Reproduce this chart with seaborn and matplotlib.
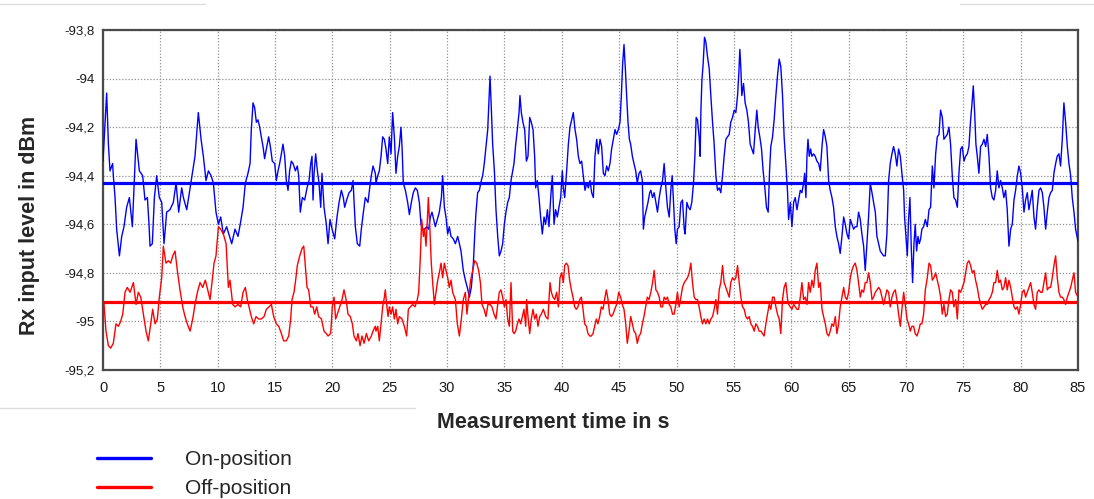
import pandas as pd
import seaborn as sns
import matplotlib.pyplot as plt
from matplotlib.lines import Line2D
from matplotlib.ticker import FuncFormatter

# Rx input level (dBm) over measurement time (s), on- and off-position
time_on = [
    0.00, 0.32, 0.47, 0.61, 0.84, 0.90, 1.05, 1.19, 1.43, 1.63, 1.83, 2.06, 2.30, 2.56, 2.88, 3.17, 3.46, 3.66, 3.87, 4.01,
    4.10, 4.30, 4.48, 4.68, 4.91, 5.12, 5.32, 5.55, 5.84, 6.13, 6.37, 6.60, 6.86, 7.01, 7.30, 7.53, 7.76, 8.02, 8.31, 8.55,
    8.75, 8.98, 9.19, 9.42, 9.62, 9.85, 10.06, 10.26, 10.49, 10.78, 11.22, 11.51,
    11.77, 12.00, 12.21, 12.41, 12.64, 12.82, 12.93, 13.08, 13.22, 13.37, 13.51, 13.66, 13.80, 13.95, 14.09, 14.24, 14.44, 14.59, 14.76, 14.97,
    15.11, 15.26, 15.40, 15.55, 15.69, 15.84, 15.98, 16.13, 16.27, 16.42, 16.57, 16.77, 16.94, 17.06, 17.20, 17.38, 17.58, 17.79, 17.96, 18.11,
    18.22, 18.31, 18.40, 18.54, 18.69, 18.83, 18.98, 19.09, 19.27, 19.47, 19.62, 19.79, 19.97, 20.20, 20.40, 20.58, 20.78, 20.95, 21.07, 21.24,
    21.45, 21.65, 21.80, 21.88, 22.00, 22.17, 22.38, 22.52, 22.70, 22.87, 23.10, 23.25, 23.39, 23.54, 23.74,
    23.80, 23.95, 24.09, 24.24, 24.38, 24.53, 24.67, 24.82, 24.96, 25.11, 25.25, 25.40, 25.54, 25.69, 25.83, 25.98, 26.07, 26.18, 26.36, 26.56,
    26.71, 26.88, 27.05, 27.23, 27.40, 27.58, 27.72, 27.87, 28.04, 28.22, 28.39, 28.54, 28.68, 28.83, 28.97, 29.15, 29.32, 29.50, 29.61, 29.76,
    29.90, 30.05, 30.19, 30.34, 30.54, 30.72, 30.92, 31.07, 31.21, 31.41, 31.59, 31.76, 31.94, 32.11, 32.29, 32.43, 32.52, 32.66, 32.81, 32.98,
    33.10, 33.24, 33.39, 33.54, 33.62, 33.74, 33.86, 33.97, 34.12, 34.26, 34.41, 34.55, 34.70, 34.84, 34.99, 35.13, 35.28, 35.42, 35.57, 35.72,
    35.83, 35.98, 36.12, 36.27, 36.35, 36.47, 36.61, 36.76, 36.91, 37.05, 37.20, 37.34, 37.49, 37.63, 37.72, 37.86, 38.01, 38.15, 38.30, 38.45,
    38.59, 38.74, 38.88, 39.03, 39.17, 39.32, 39.46, 39.61, 39.75, 39.90, 40.04, 40.13, 40.25, 40.42, 40.57, 40.71, 40.86, 41.00, 41.15, 41.29,
    41.44, 41.58, 41.73, 41.87, 42.02, 42.17, 42.31, 42.46, 42.60, 42.75, 42.89, 43.04, 43.18, 43.33, 43.47, 43.62, 43.76, 43.91, 44.05, 44.20,
    44.34, 44.49, 44.64, 44.78, 44.93, 45.07, 45.19, 45.30, 45.42, 45.54, 45.65, 45.77, 45.89, 46.00, 46.15, 46.29, 46.44, 46.58, 46.73, 46.87,
    47.02, 47.11, 47.22, 47.37, 47.51, 47.66,
    47.76, 47.91, 48.05, 48.20, 48.34, 48.49, 48.63, 48.78, 48.92, 49.07, 49.21, 49.36, 49.50, 49.62, 49.74, 49.85, 49.97, 50.08, 50.23, 50.38,
    50.52, 50.67, 50.75, 50.90, 51.04, 51.19, 51.33, 51.48, 51.60, 51.71, 51.83, 51.97, 52.06, 52.12, 52.21, 52.32, 52.44, 52.56, 52.70, 52.85,
    52.99, 53.14, 53.28, 53.43, 53.57, 53.72, 53.86, 54.01, 54.15, 54.30, 54.44, 54.59, 54.73, 54.88, 55.03, 55.17, 55.32, 55.43, 55.52, 55.61,
    55.69, 55.84, 55.98, 56.13, 56.27, 56.42, 56.57, 56.71, 56.86, 57.00, 57.12, 57.26, 57.41, 57.55, 57.70, 57.84, 57.99, 58.11, 58.22, 58.37,
    58.51, 58.66, 58.80, 58.95, 59.09, 59.24, 59.38, 59.53, 59.68,
    59.77, 59.92, 60.06, 60.21, 60.35, 60.50, 60.64, 60.79, 60.93, 61.08, 61.17, 61.28, 61.37, 61.46, 61.57, 61.69, 61.80, 61.95, 62.09, 62.24,
    62.39, 62.53, 62.68, 62.82, 62.97, 63.11, 63.26, 63.40, 63.55, 63.69, 63.84, 63.98, 64.13, 64.27, 64.42, 64.57, 64.71, 64.86, 65.00, 65.15,
    65.29, 65.44, 65.58, 65.73, 65.87, 66.02, 66.16, 66.31, 66.45, 66.60, 66.74, 66.89, 67.04, 67.18, 67.33, 67.47, 67.62, 67.76, 67.91, 68.05,
    68.20, 68.34, 68.49, 68.63, 68.78, 68.92, 69.07, 69.21, 69.36, 69.51, 69.65, 69.80, 69.88, 70.00, 70.12, 70.23, 70.35, 70.46, 70.58, 70.70,
    70.81, 70.93, 71.05, 71.16, 71.28, 71.39, 71.54, 71.69,
    71.86, 72.01, 72.15, 72.30, 72.44, 72.59, 72.73, 72.88, 73.02, 73.17, 73.31, 73.46, 73.60, 73.75, 73.89, 74.04, 74.18, 74.33, 74.48, 74.62,
    74.77, 74.91, 75.06, 75.20, 75.35, 75.49, 75.64, 75.78, 75.87, 75.99, 76.10, 76.22, 76.36, 76.51, 76.66, 76.80, 76.95, 77.09, 77.24, 77.38,
    77.53, 77.67, 77.82, 77.96, 78.11, 78.25, 78.40, 78.54, 78.69, 78.83, 78.98, 79.13, 79.27, 79.42, 79.56, 79.71, 79.85, 80.00, 80.14, 80.29,
    80.43, 80.58, 80.72, 80.87, 81.01, 81.16, 81.30, 81.45, 81.60, 81.74, 81.89, 82.03, 82.18, 82.32, 82.47, 82.61, 82.76, 82.90, 83.05, 83.19,
    83.34, 83.48, 83.63, 83.77, 83.92, 84.07, 84.21, 84.36, 84.50, 84.65, 84.79, 85.00,
]
level_on = [
    -94.34, -94.06, -94.27, -94.38, -94.35, -94.40, -94.49, -94.62, -94.73, -94.65, -94.61, -94.53, -94.49, -94.61, -94.25, -94.38, -94.40, -94.50, -94.49, -94.60,
    -94.69, -94.68, -94.49, -94.40, -94.49, -94.51, -94.68, -94.55, -94.54, -94.51, -94.43, -94.55, -94.45, -94.49, -94.54, -94.47, -94.40, -94.32, -94.14, -94.25,
    -94.32, -94.42, -94.38, -94.40, -94.43, -94.55, -94.60, -94.57, -94.64, -94.61, -94.68, -94.62,
    -94.65, -94.59, -94.53, -94.43, -94.39, -94.35, -94.21, -94.10, -94.12, -94.18, -94.17, -94.20, -94.24, -94.28, -94.33, -94.29, -94.24, -94.28, -94.34, -94.35,
    -94.42, -94.38, -94.35, -94.31, -94.27, -94.32, -94.42, -94.46, -94.38, -94.34, -94.35, -94.38, -94.36, -94.40, -94.55, -94.49, -94.50, -94.45, -94.42, -94.35,
    -94.32, -94.50, -94.39, -94.31, -94.38, -94.43, -94.53, -94.39, -94.53, -94.60, -94.68, -94.58, -94.62, -94.66, -94.57, -94.51, -94.46, -94.49, -94.53, -94.50,
    -94.47, -94.46, -94.42, -94.50, -94.61, -94.68, -94.69, -94.62, -94.55, -94.49, -94.51, -94.45, -94.40, -94.36, -94.39,
    -94.43, -94.40, -94.38, -94.32, -94.24, -94.25, -94.29, -94.35, -94.24, -94.31, -94.14, -94.24, -94.39, -94.32, -94.28, -94.20, -94.28, -94.43, -94.46, -94.51,
    -94.56, -94.51, -94.47, -94.45, -94.46, -94.51, -94.60, -94.62, -94.62, -94.61, -94.62, -94.57, -94.55, -94.58, -94.61, -94.58, -94.55, -94.49, -94.40, -94.53,
    -94.57, -94.64, -94.61, -94.65, -94.66, -94.68, -94.65, -94.68, -94.71, -94.79, -94.83, -94.86, -94.90, -94.86, -94.76, -94.62, -94.55, -94.47, -94.46, -94.42,
    -94.40, -94.35, -94.28, -94.21, -94.12, -93.99, -94.13, -94.27, -94.38, -94.54, -94.65, -94.73, -94.71, -94.68, -94.60, -94.55, -94.51, -94.49, -94.42, -94.38,
    -94.35, -94.27, -94.21, -94.14, -94.07, -94.14, -94.18, -94.21, -94.34, -94.32, -94.16, -94.18, -94.21, -94.32, -94.45, -94.42, -94.49, -94.57, -94.64, -94.57,
    -94.60, -94.54, -94.61, -94.49, -94.40, -94.60, -94.54, -94.57, -94.53, -94.49, -94.38, -94.45, -94.49, -94.38, -94.27, -94.20, -94.17, -94.14, -94.21, -94.25,
    -94.32, -94.35, -94.34, -94.40, -94.46, -94.43, -94.45, -94.42, -94.47, -94.49, -94.32, -94.25, -94.31, -94.25, -94.28, -94.39, -94.40, -94.36, -94.38, -94.35,
    -94.29, -94.25, -94.21, -94.23, -94.21, -94.18, -94.07, -93.94, -93.86, -93.96, -94.07, -94.18, -94.25, -94.27, -94.32, -94.35, -94.38, -94.43, -94.39, -94.38,
    -94.42, -94.62, -94.57, -94.54, -94.51, -94.47,
    -94.46, -94.49, -94.47, -94.51, -94.55, -94.49, -94.45, -94.42, -94.35, -94.45, -94.53, -94.57, -94.46, -94.40, -94.51, -94.62, -94.68, -94.62, -94.61, -94.51,
    -94.50, -94.62, -94.64, -94.51, -94.53, -94.54, -94.51, -94.43, -94.32, -94.16, -94.17, -94.24, -94.32, -94.14, -94.01, -93.94, -93.83, -93.85, -93.91, -93.96,
    -94.07, -94.18, -94.27, -94.40, -94.46, -94.45, -94.47, -94.40, -94.32, -94.25, -94.24, -94.23, -94.18, -94.16, -94.13, -94.14, -94.07, -93.98, -93.88, -93.96,
    -94.07, -94.02, -94.10, -94.13, -94.18, -94.27, -94.29, -94.31, -94.21, -94.13, -94.20, -94.24, -94.29, -94.38, -94.45, -94.53, -94.55, -94.38, -94.28, -94.24,
    -94.17, -94.07, -93.99, -93.92, -93.95, -94.07, -94.24, -94.35, -94.47,
    -94.58, -94.51, -94.61, -94.51, -94.49, -94.54, -94.50, -94.46, -94.47, -94.43, -94.39, -94.49, -94.32, -94.25, -94.32, -94.29, -94.32, -94.31, -94.32, -94.34,
    -94.35, -94.38, -94.28, -94.21, -94.24, -94.28, -94.42, -94.46, -94.49, -94.53, -94.61, -94.65, -94.68, -94.72, -94.65, -94.57, -94.60, -94.64, -94.66, -94.58,
    -94.60, -94.62, -94.61, -94.61, -94.55, -94.58, -94.64, -94.69, -94.79, -94.68, -94.57, -94.43, -94.47, -94.51, -94.55, -94.65, -94.68, -94.71, -94.72, -94.73,
    -94.73, -94.64, -94.42, -94.35, -94.31, -94.28, -94.31, -94.36, -94.29, -94.32, -94.39, -94.46, -94.57, -94.65, -94.73, -94.58, -94.49, -94.69, -94.84, -94.68,
    -94.60, -94.71, -94.65, -94.68, -94.66, -94.62, -94.61, -94.58,
    -94.61, -94.54, -94.53, -94.36, -94.45, -94.31, -94.24, -94.23, -94.13, -94.16, -94.25, -94.24, -94.23, -94.20, -94.27, -94.40, -94.49, -94.50, -94.53, -94.39,
    -94.29, -94.28, -94.34, -94.32, -94.31, -94.28, -94.17, -94.09, -94.03, -94.14, -94.27, -94.32, -94.39, -94.28, -94.27, -94.25, -94.28, -94.23, -94.32, -94.45,
    -94.49, -94.50, -94.46, -94.38, -94.45, -94.42, -94.45, -94.49, -94.46, -94.54, -94.69, -94.62, -94.60, -94.50, -94.46, -94.40, -94.36, -94.39, -94.45, -94.55,
    -94.50, -94.47, -94.54, -94.50, -94.46, -94.57, -94.62, -94.53, -94.46, -94.45, -94.47, -94.53, -94.62, -94.55, -94.49, -94.47, -94.46, -94.39, -94.35, -94.32,
    -94.31, -94.36, -94.25, -94.10, -94.18, -94.28, -94.35, -94.40, -94.49, -94.55, -94.62, -94.67,
]
time_off = [
    0.00, 0.09, 0.26, 0.47, 0.67, 0.90, 1.13, 1.34, 1.54, 1.72, 1.92, 2.12, 2.36, 2.65, 2.88, 3.08, 3.29, 3.52, 3.75, 3.95,
    4.16, 4.33, 4.54, 4.74, 4.91, 5.12, 5.26, 5.49, 5.70, 5.90, 6.08, 6.28, 6.48, 6.71, 6.95, 7.15, 7.35, 7.59, 7.82, 8.02,
    8.23, 8.46, 8.69, 8.92, 9.13, 9.33, 9.50, 9.68, 9.85, 10.06, 10.26, 10.49, 10.73, 10.93, 11.07, 11.31, 11.51,
    11.77, 12.00, 12.21, 12.41, 12.58, 12.73, 12.93, 13.14, 13.34, 13.57, 13.80, 14.04, 14.24, 14.47, 14.68, 14.88, 15.11, 15.32, 15.55, 15.75,
    15.98, 16.19, 16.36, 16.48, 16.65, 16.77, 16.94, 17.15, 17.35, 17.50, 17.64, 17.79, 17.93, 18.11, 18.31, 18.45, 18.63, 18.80, 19.04, 19.27,
    19.47, 19.62, 19.85, 19.99, 20.14, 20.28, 20.43, 20.63, 20.84, 21.01, 21.19, 21.36, 21.56, 21.74, 21.88, 22.09, 22.23, 22.41, 22.58, 22.76,
    22.96, 23.16, 23.39, 23.54, 23.74,
    23.80, 23.95, 24.09, 24.24, 24.38, 24.53, 24.61, 24.73, 24.85, 24.96, 25.11, 25.25, 25.40, 25.54, 25.69, 25.83, 26.07, 26.27, 26.47, 26.62,
    26.79, 27.00, 27.20, 27.40, 27.52, 27.67, 27.78, 27.93, 28.04, 28.16, 28.28, 28.36, 28.48, 28.62, 28.74, 28.89, 29.03, 29.18, 29.32, 29.47,
    29.61, 29.76, 29.90, 30.05, 30.19, 30.34, 30.48, 30.72, 30.89, 31.07, 31.24, 31.41, 31.59, 31.73, 31.88, 32.05, 32.23, 32.40, 32.58, 32.75,
    32.90, 33.04, 33.22, 33.39, 33.56, 33.74, 33.91, 34.09, 34.26, 34.41, 34.55, 34.70, 34.84, 34.99, 35.13, 35.28, 35.42, 35.57, 35.72,
    35.83, 35.98, 36.12, 36.27, 36.41, 36.56, 36.70, 36.85, 36.93, 37.05, 37.20, 37.34, 37.49, 37.63, 37.78, 37.92, 38.07, 38.21, 38.39, 38.59,
    38.79, 38.88, 38.97, 39.09, 39.23, 39.38, 39.55, 39.70, 39.84, 39.99, 40.13, 40.25, 40.39, 40.54, 40.68, 40.83, 40.97, 41.12, 41.26, 41.41,
    41.56, 41.70, 41.85, 41.99, 42.14, 42.28, 42.43, 42.57, 42.72, 42.86, 43.01, 43.15, 43.30, 43.44, 43.59, 43.73, 43.88, 44.03, 44.17, 44.32,
    44.46, 44.61, 44.78, 44.96, 45.13, 45.27, 45.42, 45.57, 45.71, 45.86, 46.00, 46.15, 46.29, 46.44, 46.58, 46.73, 46.87, 47.02, 47.16, 47.31,
    47.45, 47.60,
    47.76, 47.91, 48.05, 48.20, 48.34, 48.49, 48.63, 48.78, 48.92, 49.07, 49.21, 49.36, 49.50, 49.65, 49.79, 49.94, 50.08, 50.23, 50.38, 50.52,
    50.67, 50.81, 50.96, 51.10, 51.25, 51.39, 51.54, 51.68, 51.83, 51.97, 52.12, 52.26, 52.41, 52.56, 52.70, 52.85, 52.99, 53.14, 53.28, 53.43,
    53.57, 53.72, 53.86, 54.01, 54.15, 54.30, 54.44, 54.59, 54.73, 54.88, 55.03, 55.17, 55.32, 55.46, 55.61, 55.75, 55.90, 56.04, 56.19, 56.33,
    56.48, 56.62, 56.77, 56.91, 57.06, 57.20, 57.35, 57.50, 57.64, 57.79, 57.93, 58.08, 58.22, 58.37, 58.51, 58.66, 58.80, 58.95, 59.09, 59.24,
    59.38, 59.53, 59.68,
    59.77, 59.92, 60.06, 60.21, 60.35, 60.50, 60.64, 60.79, 60.93, 61.08, 61.22, 61.37, 61.51, 61.66, 61.80, 61.95, 62.09, 62.24, 62.39, 62.53,
    62.68, 62.82, 62.97, 63.11, 63.26, 63.40, 63.55, 63.69, 63.84, 63.98, 64.13, 64.27, 64.42, 64.57, 64.71, 64.86, 65.00, 65.15, 65.29, 65.44,
    65.58, 65.73, 65.87, 66.02, 66.16, 66.31, 66.45, 66.60, 66.74, 66.89, 67.04, 67.18, 67.33, 67.47, 67.62, 67.76, 67.91, 68.05, 68.20, 68.34,
    68.49, 68.63, 68.78, 68.92, 69.07, 69.21, 69.36, 69.51, 69.65, 69.80, 69.94, 70.09, 70.23, 70.38, 70.52, 70.67, 70.81, 70.96, 71.10, 71.25,
    71.39, 71.54, 71.69,
    71.86, 72.01, 72.15, 72.30, 72.44, 72.59, 72.73, 72.88, 73.02, 73.17, 73.31, 73.46, 73.60, 73.75, 73.89, 74.04, 74.18, 74.33, 74.48, 74.62,
    74.77, 74.91, 75.06, 75.20, 75.35, 75.49, 75.64, 75.78, 75.93, 76.07, 76.22, 76.36, 76.51, 76.66, 76.80, 76.95, 77.09, 77.24, 77.38, 77.53,
    77.67, 77.82, 77.96, 78.11, 78.25, 78.40, 78.54, 78.69, 78.83, 78.98, 79.13, 79.27, 79.42, 79.56, 79.71, 79.85, 80.00, 80.14, 80.29, 80.43,
    80.58, 80.72, 80.87, 81.01, 81.16, 81.30, 81.45, 81.60, 81.74, 81.89, 82.03, 82.18, 82.32, 82.47, 82.61, 82.76, 82.90, 83.05, 83.19, 83.34,
    83.48, 83.63, 83.77, 83.92, 84.07, 84.21, 84.36, 84.50, 84.65, 84.79, 85.00,
]
level_off = [
    -94.97, -94.93, -95.04, -95.10, -95.11, -95.09, -95.01, -95.02, -95.00, -94.97, -94.88, -94.86, -94.88, -94.84, -94.93, -94.88, -94.90, -94.97, -95.04, -95.08,
    -95.01, -94.95, -95.01, -94.99, -94.90, -94.82, -94.69, -94.76, -94.75, -94.76, -94.73, -94.71, -94.79, -94.87, -94.94, -94.98, -95.01, -95.04, -94.99, -94.93,
    -94.88, -94.84, -94.86, -94.83, -94.87, -94.91, -94.84, -94.76, -94.73, -94.61, -94.62, -94.64, -94.68, -94.86, -94.83, -94.93, -94.94,
    -94.93, -94.94, -94.88, -94.86, -94.91, -94.94, -94.98, -95.01, -94.98, -94.99, -94.99, -94.98, -94.95, -94.94, -94.93, -94.98, -95.01, -95.02, -95.05, -95.08,
    -95.08, -95.06, -94.99, -94.91, -94.88, -94.84, -94.77, -94.73, -94.70, -94.69, -94.77, -94.86, -94.87, -94.94, -94.94, -94.97, -94.94, -94.98, -94.99, -95.04,
    -95.05, -95.06, -95.05, -94.94, -94.90, -94.99, -94.97, -94.94, -94.91, -94.87, -94.91, -94.97, -94.98, -95.01, -95.06, -95.08, -95.05, -95.10, -95.06, -95.09,
    -95.05, -95.08, -95.06, -95.04, -95.02,
    -95.04, -95.02, -95.08, -95.01, -94.94, -94.90, -94.87, -94.93, -94.98, -94.94, -94.97, -94.94, -94.99, -94.95, -95.01, -94.98, -94.99, -95.02, -95.06, -94.95,
    -94.94, -94.93, -94.94, -94.91, -94.88, -94.73, -94.58, -94.65, -94.62, -94.69, -94.58, -94.49, -94.60, -94.76, -94.84, -94.93, -94.88, -94.83, -94.80, -94.76,
    -94.82, -94.76, -94.79, -94.82, -94.86, -94.83, -94.88, -94.91, -95.01, -95.06, -94.99, -94.91, -94.88, -94.97, -94.90, -94.83, -94.79, -94.75, -94.76, -94.79,
    -94.84, -94.93, -94.95, -94.98, -94.93, -94.93, -94.94, -94.97, -94.99, -94.93, -94.88, -94.87, -94.90, -94.94, -94.91, -94.99, -95.02, -94.84, -95.04,
    -95.05, -95.04, -95.01, -94.99, -95.01, -94.98, -94.95, -95.02, -94.91, -94.98, -95.05, -94.99, -94.95, -94.99, -94.97, -95.02, -94.98, -94.97, -94.95, -94.98,
    -94.99, -94.91, -94.84, -94.88, -94.90, -94.91, -94.88, -94.94, -94.82, -94.80, -94.84, -94.77, -94.76, -94.77, -94.83, -94.87, -94.90, -94.94, -94.95, -94.94,
    -94.91, -94.90, -94.95, -95.01, -95.02, -95.05, -95.06, -95.06, -95.05, -95.02, -94.99, -95.01, -94.98, -94.94, -94.95, -94.91, -94.87, -94.91, -94.97, -94.98,
    -94.97, -94.95, -94.93, -94.88, -94.90, -94.93, -94.95, -95.01, -95.09, -95.04, -94.98, -95.01, -95.04, -95.05, -95.09, -95.06, -95.05, -95.01, -94.98, -94.94,
    -94.90, -94.91,
    -94.88, -94.84, -94.79, -94.87, -94.88, -94.90, -94.94, -94.94, -94.90, -94.91, -94.90, -94.93, -94.94, -94.97, -94.97, -94.93, -94.88, -94.94, -94.90, -94.86,
    -94.84, -94.83, -94.82, -94.80, -94.76, -94.84, -94.90, -94.91, -94.91, -94.94, -94.98, -95.01, -94.99, -95.01, -94.99, -95.01, -94.99, -94.98, -94.95, -94.91,
    -94.97, -94.87, -94.84, -94.77, -94.84, -94.86, -94.88, -94.90, -94.84, -94.82, -94.83, -94.82, -94.77, -94.84, -94.90, -94.94, -94.95, -94.98, -94.99, -94.98,
    -95.01, -95.02, -95.04, -95.01, -95.02, -95.04, -95.04, -95.05, -95.06, -95.01, -94.97, -94.93, -94.95, -94.90, -94.90, -94.94, -94.97, -94.99, -95.05, -94.91,
    -94.86, -94.84, -94.91,
    -94.93, -94.94, -94.95, -94.93, -94.94, -94.95, -94.95, -94.90, -94.84, -94.91, -94.90, -94.93, -94.84, -94.88, -94.83, -94.86, -94.79, -94.76, -94.86, -94.84,
    -94.95, -94.98, -95.01, -95.05, -95.06, -95.04, -95.01, -95.02, -94.98, -95.05, -95.01, -94.94, -94.90, -94.86, -94.90, -94.91, -94.88, -94.82, -94.79, -94.77,
    -94.76, -94.79, -94.84, -94.90, -94.87, -94.88, -94.84, -94.84, -94.80, -94.84, -94.91, -94.90, -94.88, -94.87, -94.86, -94.87, -94.90, -94.93, -94.90, -94.87,
    -94.88, -94.94, -94.90, -94.88, -94.87, -94.91, -94.97, -95.02, -94.95, -94.88, -94.93, -94.99, -95.01, -95.04, -95.02, -95.02, -95.05, -95.06, -95.04, -95.01,
    -95.01, -94.97, -94.87,
    -94.82, -94.76, -94.77, -94.83, -94.82, -94.80, -94.83, -94.86, -94.90, -94.97, -94.93, -94.98, -94.97, -94.91, -94.87, -94.88, -94.94, -94.91, -94.99, -94.87,
    -94.88, -94.86, -94.84, -94.80, -94.76, -94.75, -94.77, -94.80, -94.79, -94.83, -94.86, -94.90, -94.93, -94.95, -94.94, -94.93, -94.93, -94.91, -94.90, -94.88,
    -94.84, -94.84, -94.79, -94.84, -94.83, -94.87, -94.86, -94.82, -94.87, -94.83, -94.86, -94.90, -94.94, -94.95, -94.94, -94.97, -94.93, -94.88, -94.87, -94.90,
    -94.88, -94.86, -94.84, -94.88, -94.93, -94.95, -94.88, -94.87, -94.88, -94.88, -94.84, -94.80, -94.87, -94.86, -94.86, -94.82, -94.77, -94.73, -94.82, -94.88,
    -94.90, -94.90, -94.91, -94.93, -94.90, -94.88, -94.86, -94.83, -94.80, -94.88, -94.90,
]
mean_on = -94.43
mean_off = -94.92

series_names = ["On-position", "Off-position"]
x_ticks = [0, 5, 10, 15, 20, 25, 30, 35, 40, 45, 50, 55, 60, 65, 70, 75, 80, 85]
y_ticks = [-95.2, -95.0, -94.8, -94.6, -94.4, -94.2, -94.0, -93.8]
x_label = "Measurement time in s"
y_label = "Rx input level in dBm"

BLUE = "#0000ff"
RED = "#ff0000"

sns.set_style("white")
plt.rcParams["font.family"] = ["Liberation Sans", "DejaVu Sans"]

W, H = 1094, 499
fig = plt.figure(figsize=(W / 100, H / 100), dpi=100)
fig.patch.set_facecolor("white")
ax = fig.add_axes([103 / W, 1 - 370 / H, 975 / W, 340 / H])

df_on = pd.DataFrame({"time": time_on, "level": level_on})
df_off = pd.DataFrame({"time": time_off, "level": level_off})

sns.lineplot(data=df_on, x="time", y="level", ax=ax, color=BLUE, lw=1.0,
             estimator=None, sort=False, zorder=3)
sns.lineplot(data=df_off, x="time", y="level", ax=ax, color=RED, lw=1.0,
             estimator=None, sort=False, zorder=3)
ax.axhline(mean_on, color=BLUE, lw=2.3, zorder=4)
ax.axhline(mean_off, color=RED, lw=2.3, zorder=4)

ax.set_xlim(x_ticks[0], x_ticks[-1])
ax.set_ylim(y_ticks[0], y_ticks[-1])
ax.set_xticks(x_ticks)
ax.set_yticks(y_ticks)
ax.yaxis.set_major_formatter(FuncFormatter(lambda v, _: f"{round(v, 1):g}".replace(".", ",")))
ax.tick_params(axis="both", direction="out", length=3, width=1, color="#404040",
               labelcolor="#1a1a1a")
ax.tick_params(axis="x", labelsize=10.5, pad=5)
ax.tick_params(axis="y", labelsize=9.5, pad=3)

ax.set_axisbelow(True)
ax.grid(True, linestyle=(0, (1, 1.5)), color="#909090", lw=0.9)
for side in ["left", "bottom", "top", "right"]:
    ax.spines[side].set_color("#4a4a4a")
    ax.spines[side].set_linewidth(1.6)
ax.set_xlabel("")
ax.set_ylabel("")

fig.text(30 / W, 1 - 225 / H, y_label, rotation=90, ha="center", va="center",
         fontsize=15.5, fontweight="bold")
fig.text(553 / W, 1 - 423 / H, x_label, ha="center", va="center",
         fontsize=15.5, fontweight="bold")

# thin separator rules framing the chart block
for x0, x1, yy in [(0, 205, 4), (960, W, 4), (0, 415, 408)]:
    fig.add_artist(Line2D([x0 / W, x1 / W], [1 - yy / H] * 2, color="#dddddd", lw=1.0))

handles = [Line2D([], [], color=BLUE, lw=2.4), Line2D([], [], color=RED, lw=2.4)]
fig.legend(handles, series_names, loc="upper left", bbox_to_anchor=(97 / W, 1 - 450 / H),
           frameon=False, fontsize=15, handlelength=2.6, handletextpad=1.6,
           labelspacing=0.5, borderpad=0, borderaxespad=0)

fig.savefig("out.png", dpi=100, facecolor="white")
